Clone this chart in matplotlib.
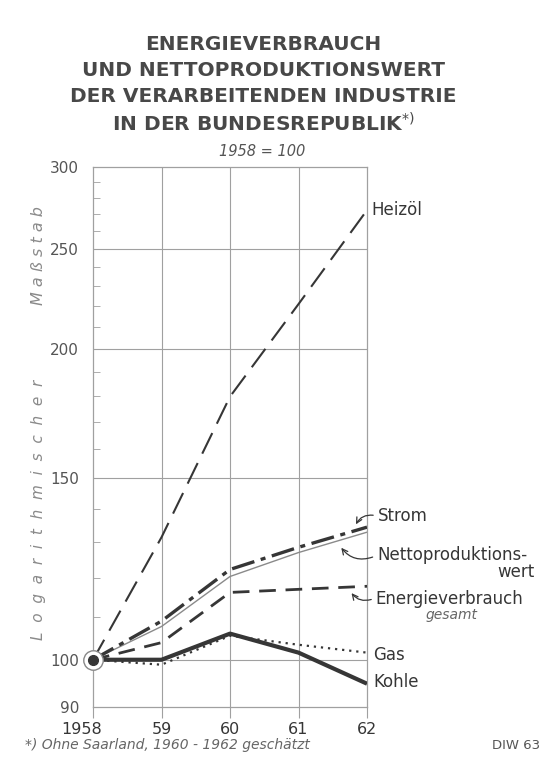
import numpy as np
import matplotlib.pyplot as plt
from matplotlib.ticker import FixedLocator, NullFormatter
from matplotlib.transforms import ScaledTranslation

years = [1958, 1959, 1960, 1961, 1962]
year_labels = ['1958', '59', '60', '61', '62']

heizoel = [100, 131.4, 179.8, 221, 272.5]
strom = [100, 109, 122.3, 128.5, 134.4]
netto = [100, 107.7, 120.4, 127, 132.9]
energie = [100, 103.9, 116.2, 117, 117.8]
gas = [100, 98.9, 105.5, 103.4, 101.6]
kohle = [100, 100, 106, 101.6, 94.8]

y_major = [90, 100, 150, 200, 250, 300]
y_minor = [110, 120, 130, 140, 160, 170, 180, 190, 210, 220, 230, 240, 260, 270, 280, 290]

title_lines = ['ENERGIEVERBRAUCH', 'UND NETTOPRODUKTIONSWERT',
               'DER VERARBEITENDEN INDUSTRIE', 'IN DER BUNDESREPUBLIK$^{*)}$']

ink = '#363636'
grid = '#a0a0a0'

fig = plt.figure(figsize=(5.54, 7.65), dpi=100)
ax = fig.add_axes([0.1679, 0.0758, 0.4946, 0.7059])
ax.set_yscale('log')
ax.set_ylim(90, 300)
ax.set_xlim(1958, 1962)

# grid
for v in [100, 150, 200, 250]:
    ax.axhline(v, color=grid, lw=0.8, zorder=1)
for x in [1959, 1960, 1961]:
    ax.axvline(x, color=grid, lw=0.8, zorder=1)

ax.plot(years, heizoel, color=ink, lw=1.5, dashes=(11, 5), zorder=3)
ax.plot(years, netto, color='#8a8a8a', lw=1.0, zorder=3)
ax.plot(years, strom, color=ink, lw=2.4, dashes=(7, 2, 1.5, 2), zorder=4)
ax.plot(years, energie, color=ink, lw=2.0, dashes=(6, 3.5), zorder=3)
ax.plot(years, gas, color=ink, lw=1.6, dashes=(1, 2.2), zorder=3)
ax.plot(years, kohle, color=ink, lw=3.0, solid_capstyle='butt', zorder=3)

# start marker
ax.plot([1958], [100], 'o', ms=14, mfc='white', mec='#888888', mew=1.0, zorder=5, clip_on=False)
ax.plot([1958], [100], 'o', ms=7, color=ink, zorder=6, clip_on=False)

for s in ax.spines.values():
    s.set_color(grid)
    s.set_linewidth(0.9)

ax.yaxis.set_major_locator(FixedLocator(y_major))
ax.yaxis.set_minor_locator(FixedLocator(y_minor))
ax.yaxis.set_minor_formatter(NullFormatter())
ax.set_yticklabels([str(v) for v in y_major])
ax.tick_params(axis='y', which='major', length=0, pad=10, labelsize=11, labelcolor='#555555')
ax.tick_params(axis='y', which='minor', direction='in', length=5, color=grid)

ax.set_xticks(years)
ax.set_xticklabels(year_labels)
ax.tick_params(axis='x', direction='out', length=8, color=grid, labelsize=11.5, labelcolor=ink, pad=3)
first = ax.get_xticklabels()[0]
first.set_transform(first.get_transform() + ScaledTranslation(-0.11, 0, fig.dpi_scale_trans))

# rotated axis caption, two spaced words
ax.text(-0.2, 1 - (510 - 167) / 540, 'L  o  g  a  r  i  t  h  m  i  s  c  h  e  r', transform=ax.transAxes,
        rotation=90, ha='center', va='center', fontsize=11, style='italic', color='#8a8a8a')
ax.text(-0.2, 1 - (256 - 167) / 540, 'M a ß s t a b', transform=ax.transAxes,
        rotation=90, ha='center', va='center', fontsize=11.5, style='italic', color='#8a8a8a')

# right-side labels
ax.text(1962.07, 272.5, 'Heizöl', fontsize=12, color=ink, va='center', clip_on=False)
ax.text(1962.16, 137.7, 'Strom', fontsize=12, color=ink, va='center', clip_on=False)
ax.text(1962.15, 126.2, 'Nettoproduktions-', fontsize=12, color=ink, va='center', clip_on=False)
ax.text(1964.45, 121.6, 'wert', fontsize=12, color=ink, va='center', ha='right', clip_on=False)
ax.text(1962.12, 114.6, 'Energieverbrauch', fontsize=12, color=ink, va='center', clip_on=False)
ax.text(1962.85, 110.4, 'gesamt', fontsize=10, color='#666666', style='italic', va='center', clip_on=False)
ax.text(1962.09, 101.1, 'Gas', fontsize=12, color=ink, va='center', clip_on=False)
ax.text(1962.09, 95.2, 'Kohle', fontsize=12, color=ink, va='center', clip_on=False)

arrow = dict(arrowstyle='->', color=ink, lw=0.9, connectionstyle='arc3,rad=0.4')
ax.annotate('', xy=(1961.82, 134.5), xytext=(1962.13, 137.9), arrowprops=arrow, annotation_clip=False)
ax.annotate('', xy=(1961.6, 129.0), xytext=(1962.12, 126.0),
            arrowprops=dict(arrow, connectionstyle='arc3,rad=-0.4'), annotation_clip=False)
ax.annotate('', xy=(1961.75, 116.6), xytext=(1962.1, 114.6),
            arrowprops=dict(arrow, connectionstyle='arc3,rad=-0.4'), annotation_clip=False)

# titles
for i, line in enumerate(title_lines):
    fig.text(0.475, 1 - (44 + 26.5 * i) / 765, line, ha='center', va='center', fontsize=14.5,
             fontweight='bold', color='#484848')
fig.text(0.473, 1 - 152 / 765, '1958 = 100', ha='center', va='center', fontsize=10.5,
         style='italic', color='#555555')

fig.text(0.045, 0.021, '*) Ohne Saarland, 1960 - 1962 geschätzt', fontsize=10, style='italic', color='#666666')
fig.text(0.975, 0.021, 'DIW 63', fontsize=9.5, color='#555555', ha='right')

fig.savefig('out.png', dpi=100, facecolor='white')
